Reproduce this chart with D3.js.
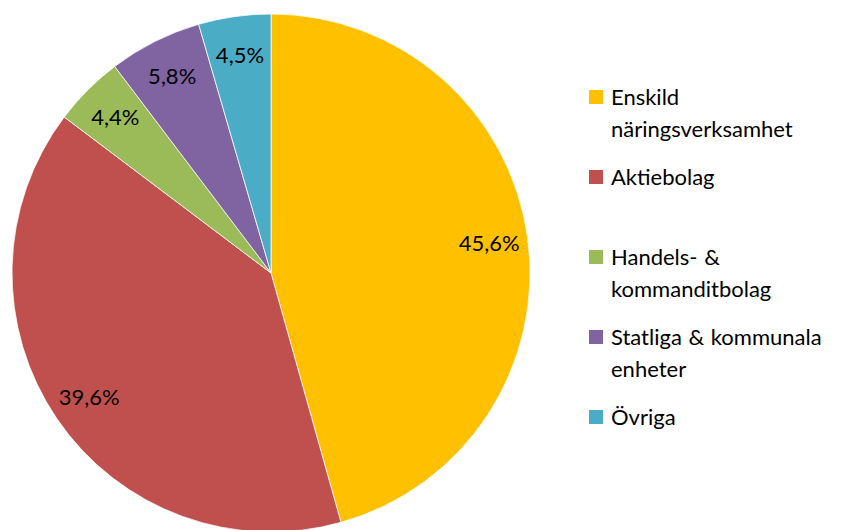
<!DOCTYPE html>
<html>
<head>
<meta charset="utf-8">
<script src="https://cdn.jsdelivr.net/npm/d3@7"></script>
<style>
  body { margin: 0; background: #fff; }
</style>
</head>
<body>
<div id="chart"></div>
<script>
var width = 854, height = 530;

// data
var categories = ['Enskild näringsverksamhet', 'Aktiebolag', 'Handels- & kommanditbolag',
                  'Statliga & kommunala enheter', 'Övriga'];
var legendLines = [['Enskild', 'näringsverksamhet'], ['Aktiebolag'], ['Handels- &', 'kommanditbolag'],
                   ['Statliga & kommunala', 'enheter'], ['Övriga']];
var values = [45.6, 39.6, 4.4, 5.8, 4.5];
var labels = ['45,6%', '39,6%', '4,4%', '5,8%', '4,5%'];
var colors = ['#FFC000', '#C0504D', '#9BBB59', '#8064A2', '#4BACC6'];

var font = 'Lato, Calibri, sans-serif';

var svg = d3.select('#chart').append('svg')
    .attr('width', width)
    .attr('height', height)
    .style('font-family', font);

var cx = 271, cy = 273, radius = 259;

var pie = d3.pie().sort(null).value(d => d);
var arcs = pie(values);

var arc = d3.arc().innerRadius(0).outerRadius(radius);
var labelArc = d3.arc().innerRadius(radius * 0.85).outerRadius(radius * 0.85);

var g = svg.append('g')
    .attr('transform', 'translate(' + cx + ',' + cy + ')');

g.selectAll('.slice')
    .data(arcs)
    .enter().append('path')
        .attr('class', 'slice')
        .attr('d', arc)
        .attr('fill', (d, i) => colors[i])
        .attr('stroke', '#fff')
        .attr('stroke-width', 0.75);

g.selectAll('.lbl')
    .data(arcs)
    .enter().append('text')
        .attr('class', 'lbl')
        .attr('transform', d => 'translate(' + labelArc.centroid(d) + ')')
        .attr('text-anchor', 'middle')
        .attr('dy', '0.35em')
        .style('font-size', '22px')
        .attr('fill', '#000')
        .text((d, i) => labels[i]);

// legend
var legend = svg.selectAll('.legend')
    .data(categories)
    .enter().append('g')
        .attr('class', 'legend')
        .attr('transform', (d, i) => 'translate(589,' + (97 + i * 80) + ')');

legend.append('rect')
    .attr('x', 0)
    .attr('y', -7)
    .attr('width', 14)
    .attr('height', 14)
    .attr('fill', (d, i) => colors[i]);

legend.append('text')
    .attr('x', 22)
    .attr('y', 8)
    .style('font-size', '22px')
    .style('word-spacing', '1px')
    .attr('fill', '#000')
    .selectAll('tspan')
    .data((d, i) => legendLines[i])
    .enter().append('tspan')
        .attr('x', 22)
        .attr('dy', (d, j) => j === 0 ? 0 : 32)
        .text(d => d);
</script>
</body>
</html>
